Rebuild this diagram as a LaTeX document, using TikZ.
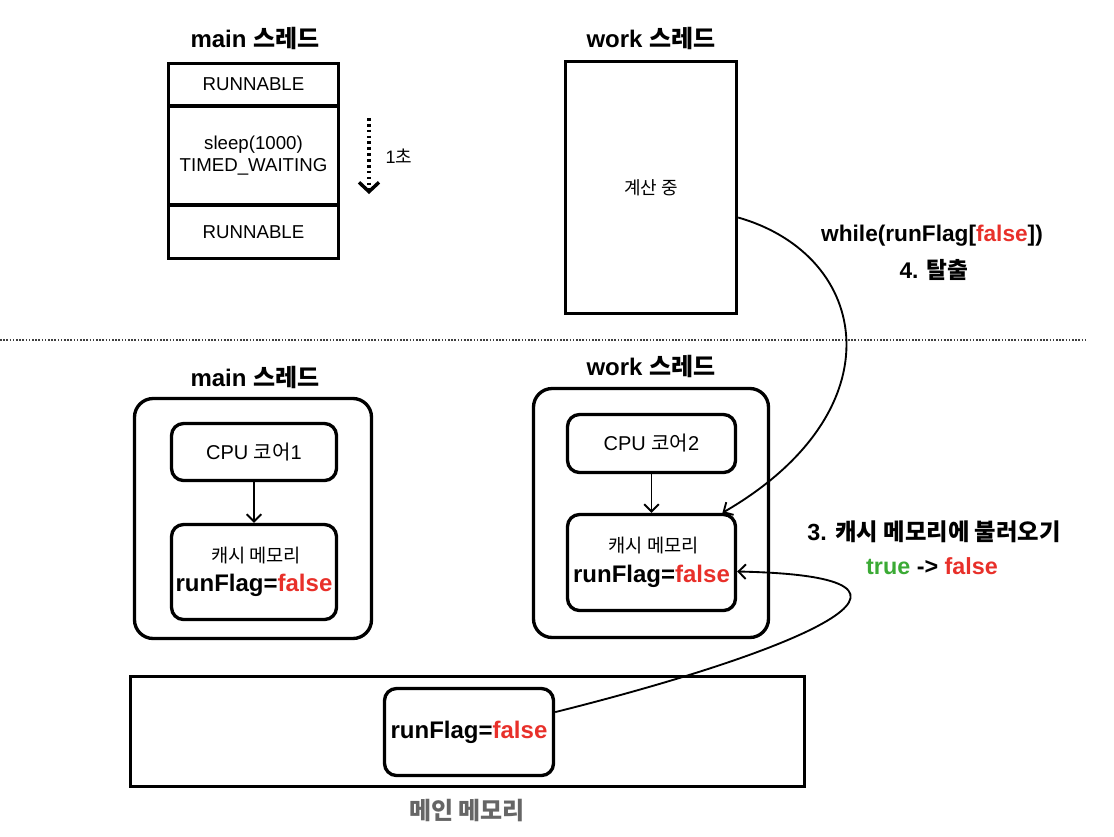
\documentclass[tikz,border=0pt]{standalone}
\usepackage{fontspec}
\usepackage{tikz}
\usetikzlibrary{arrows.meta}
\setmainfont{Liberation Sans}
\newfontfamily\kr{Noto Sans CJK KR}
\definecolor{flagred}{HTML}{E8302A}
\definecolor{flaggreen}{HTML}{3BAA35}
\definecolor{memgray}{HTML}{666666}
\newcommand{\falsetxt}{\textcolor{flagred}{false}}
\newcommand{\fs}[1]{\fontsize{#1}{#1}\selectfont}

\tikzset{
	box/.style={draw, line width=2.5pt, align=center, inner sep=0pt},
	rbox/.style={box, rounded corners=9pt},
	title/.style={font=\fs{18}\bfseries},
	flow/.style={line width=1.4pt, -{Straight Barb[length=5.5pt,width=11pt]}}
}

\begin{document}
\begin{tikzpicture}[x=0.75pt,y=-0.75pt]
			\useasboundingbox (0,0) rectangle (1114,836);

			% upper half: thread states
			\node[title] (maintitle) at (255,38) {main {\kr 스레드}};
			\node[title] (worktitle) at (651,38) {work {\kr 스레드}};

			\node[box, minimum width=127.5pt, minimum height=32pt, font=\fs{14}] (run1) at (253.5,84.5) {RUNNABLE};
			\node[box, minimum width=127.5pt, minimum height=74pt, font=\fs{14}] (sleep) at (253.5,155.5) {sleep(1000)\\[3pt]TIMED\_WAITING};
			\node[box, minimum width=127.5pt, minimum height=40pt, font=\fs{14}] (run2) at (253.5,232) {RUNNABLE};

			\coordinate (t0) at (369,118);
			\coordinate (t1) at (369,194);
			\draw[line width=2.4pt, dash pattern=on 2pt off 2.4pt, -{Straight Barb[length=7pt,width=15pt,line width=2.6pt]}] (t0) -- (t1);
			\node[font=\fs{13.5}] (sec) at (399,156) {1{\kr 초}};

			\node[box, minimum width=128.25pt, minimum height=189pt, font=\fs{13.5}\kr] (worktop) at (651,187.5) {계산 중};

			\node[title, font=\fs{17}\bfseries] (whilecond) at (932,236) {while(runFlag[\falsetxt])};
			\node[title, font=\fs{17}\bfseries] (exit) at (934,270) {4. {\kr 탈출}};

			\draw[black!75, line width=1.5pt, dash pattern=on 1.2pt off 1.2pt] (0,340) -- (1085,340);

			% lower half: cores, caches and main memory
			\node[title] (main2) at (255,377) {main {\kr 스레드}};
			\node[title] (work2) at (651,366) {work {\kr 스레드}};

			\node[rbox, rounded corners=14pt, minimum width=177.75pt, minimum height=180pt] (mainbox) at (253,518.5) {};
			\node[rbox, minimum width=123.75pt, minimum height=42.75pt, font=\fs{15}] (cpu1) at (254,452) {CPU {\kr 코어}1};
			\node[rbox, minimum width=123.75pt, minimum height=71.25pt] (cache1) at (254,572) {{\kr\fs{14} 캐시 메모리}\\[7pt]{\fs{18}\bfseries runFlag=\falsetxt}};

			\node[rbox, rounded corners=14pt, minimum width=176.25pt, minimum height=186.75pt] (workbox) at (651,513) {};
			\node[rbox, minimum width=126pt, minimum height=43.5pt, font=\fs{15}] (cpu2) at (651.5,443.5) {CPU {\kr 코어}2};
			\node[rbox, minimum width=126pt, minimum height=72pt] (cache2) at (651.5,562.5) {{\kr\fs{14} 캐시 메모리}\\[7pt]{\fs{18}\bfseries runFlag=\falsetxt}};

			\draw[flow] (cpu1) -- (cache1);
			\draw[flow] (cpu2) -- (cache2);

			\node[title, font=\fs{17.5}\bfseries] (load) at (934,532) {3. {\kr 캐시 메모리에 불러오기}};
			\node[title, font=\fs{17.5}\bfseries] (change) at (932,566) {\textcolor{flaggreen}{true} -> \falsetxt};

			\node[box, minimum width=505.5pt, minimum height=82.5pt] (memory) at (467.5,731.5) {};
			\node[rbox, minimum width=126.75pt, minimum height=65.25pt, font=\fs{18}\bfseries] (memflag) at (469,732) {runFlag=\falsetxt};
			\node[font=\fs{18}\bfseries\kr, text=memgray] (memlabel) at (467,811) {메인 메모리};

			\draw[flow] (worktop.-19) .. controls +(133,38) and +(176,-102) .. (cache2.35);
			\draw[flow] (memflag.13) .. controls +(240,-60) and +(240,5) .. (cache2.-6);
		\end{tikzpicture}
\end{document}
